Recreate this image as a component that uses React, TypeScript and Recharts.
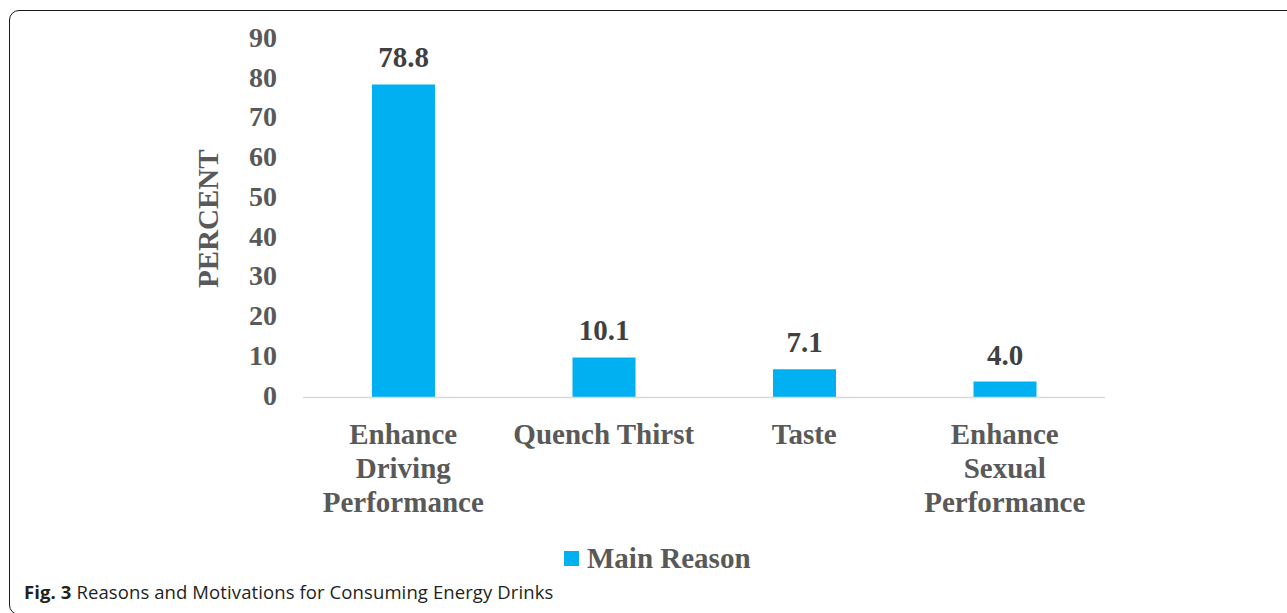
import { BarChart, Bar, XAxis, YAxis, LabelList } from 'recharts';

const categories = ['Enhance Driving Performance', 'Quench Thirst', 'Taste', 'Enhance Sexual Performance'];
const categoryLines = [['Enhance', 'Driving', 'Performance'], ['Quench Thirst'], ['Taste'], ['Enhance', 'Sexual', 'Performance']];
const mainReason = [78.8, 10.1, 7.1, 4.0];
const yTicks = [0, 10, 20, 30, 40, 50, 60, 70, 80, 90];

const seriesName = 'Main Reason';
const yLabel = 'PERCENT';

const data = categories.map((c, i) => ({ category: c, value: mainReason[i] }));

const SERIF = '"Liberation Serif", "Times New Roman", serif';
const GREY = '#595959';
const BLUE = '#00B0F0';

function CategoryTick(props: any) {
    const { x, y, payload, index } = props;
    const lines = categoryLines[index] || [payload.value];
    return (
        <g>
            {lines.map((ln: string, i: number) => (
                <text
                    key={i}
                    x={x}
                    y={y + 38 + i * 34}
                    textAnchor="middle"
                    fill={GREY}
                    fontFamily={SERIF}
                    fontWeight="bold"
                    fontSize={29}
                >
                    {ln}
                </text>
            ))}
        </g>
    );
}

function ValueTick(props: any) {
    const { x, y, payload } = props;
    return (
        <text x={x} y={y} dy={7} textAnchor="end" fill={GREY} fontFamily={SERIF} fontWeight="bold" fontSize={28}>
            {payload.value}
        </text>
    );
}

export default function App() {
    return (
        <div style={{ position: 'fixed', left: 0, top: 0, width: 1287, height: 613, overflow: 'hidden', background: '#fff' }}>
            {/* frame around the figure */}
            <div
                style={{
                    position: 'absolute',
                    left: 9,
                    top: 10,
                    width: 1400,
                    height: 605,
                    boxSizing: 'border-box',
                    border: '1.5px solid #1a1a1a',
                    borderRadius: 10,
                }}
            />

            <div style={{ position: 'absolute', left: 0, top: 0 }}>
                <BarChart width={1287} height={613} data={data} margin={{ top: 40, right: 182, bottom: 0, left: 0 }}>
                    <XAxis
                        dataKey="category"
                        height={215.5}
                        tickLine={false}
                        axisLine={{ stroke: '#d9d9d9', strokeWidth: 1.5 }}
                        interval={0}
                        tick={<CategoryTick />}
                    />
                    <YAxis
                        width={303}
                        domain={[0, 90]}
                        ticks={yTicks}
                        axisLine={false}
                        tickLine={false}
                        tickSize={0}
                        tickMargin={26}
                        tick={<ValueTick />}
                        label={{
                            content: (p: any) => {
                                const vb = p.viewBox || { x: 0, y: 40, height: 357.5 };
                                const cx = vb.x + 208;
                                const cy = vb.y + vb.height / 2;
                                return (
                                    <text
                                        x={cx}
                                        y={cy}
                                        transform={`rotate(-90, ${cx}, ${cy})`}
                                        textAnchor="middle"
                                        dominantBaseline="central"
                                        fill={GREY}
                                        fontFamily={SERIF}
                                        fontWeight="bold"
                                        fontSize={29}
                                    >
                                        {yLabel}
                                    </text>
                                );
                            },
                        }}
                    />
                    <Bar dataKey="value" name={seriesName} fill={BLUE} barSize={63} isAnimationActive={false}>
                        <LabelList
                            dataKey="value"
                            position="top"
                            offset={17}
                            formatter={(v: any) => Number(v).toFixed(1)}
                            style={{ fill: '#404040', fontFamily: SERIF, fontWeight: 'bold', fontSize: 29 }}
                        />
                    </Bar>
                </BarChart>
            </div>

            {/* legend */}
            <div
                style={{
                    position: 'absolute',
                    left: 564,
                    top: 540,
                    display: 'flex',
                    alignItems: 'center',
                    fontFamily: SERIF,
                    fontWeight: 'bold',
                    fontSize: 29,
                    color: GREY,
                    lineHeight: '36px',
                }}
            >
                <span style={{ display: 'inline-block', width: 15, height: 15, background: BLUE, marginRight: 8 }} />
                <span>{seriesName}</span>
            </div>

            {/* caption */}
            <div
                style={{
                    position: 'absolute',
                    left: 24,
                    top: 579,
                    fontFamily: '"Open Sans", sans-serif',
                    fontSize: 18.5,
                    color: '#231f20',
                    whiteSpace: 'nowrap',
                    letterSpacing: '0.1px',
                }}
            >
                <b>Fig. 3</b> Reasons and Motivations for Consuming Energy Drinks
            </div>
        </div>
    );
}
